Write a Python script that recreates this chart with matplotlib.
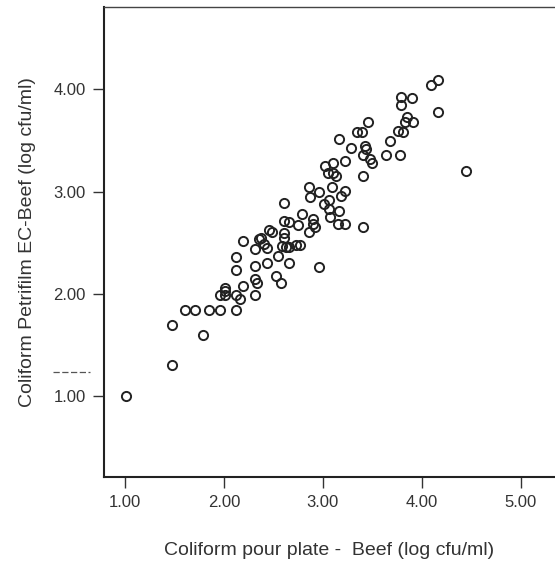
import matplotlib.pyplot as plt
from matplotlib.lines import Line2D

plt.rcParams['font.family'] = ['Liberation Sans', 'DejaVu Sans']

# pour plate counts (x) vs Petrifilm counts (y), log cfu/ml
pour_plate = [1.01, 1.48, 1.48, 1.79, 1.61, 1.71, 1.85, 1.96, 2.12, 1.96,
              2.01, 2.01, 2.12, 2.16, 2.19, 2.12, 2.12, 2.19, 2.31, 2.31,
              2.33, 2.31, 2.31, 2.36, 2.38, 2.41, 2.44, 2.46, 2.49, 2.44,
              2.53, 2.58, 2.55, 2.61, 2.61, 2.61, 2.61, 2.59, 2.63, 2.66,
              2.66, 2.66, 2.73, 2.77, 2.75, 2.79, 2.86, 2.87, 2.86, 2.90,
              2.90, 2.92, 2.96, 2.96, 3.01, 3.02, 3.05, 3.06, 3.06, 3.07,
              3.09, 3.10, 3.10, 3.13, 3.16, 3.15, 3.22, 3.18, 3.22, 3.16,
              3.22, 3.29, 3.35, 3.40, 3.46, 3.41, 3.41, 3.43, 3.44, 3.41,
              3.48, 3.50, 3.64, 3.68, 3.76, 3.78, 3.79, 3.79, 3.81, 3.83,
              3.85, 3.90, 3.91, 4.09, 4.17, 4.16, 4.45, 2.01]
petrifilm = [1.00, 1.69, 1.30, 1.60, 1.84, 1.84, 1.84, 1.84, 1.84, 1.99,
             1.99, 2.06, 1.99, 1.95, 2.08, 2.23, 2.36, 2.52, 1.99, 2.14,
             2.11, 2.27, 2.44, 2.54, 2.55, 2.49, 2.45, 2.62, 2.60, 2.30,
             2.17, 2.11, 2.37, 2.89, 2.71, 2.59, 2.55, 2.47, 2.46, 2.70,
             2.46, 2.30, 2.48, 2.48, 2.67, 2.78, 3.04, 2.95, 2.60, 2.73,
             2.68, 2.65, 3.00, 2.26, 2.88, 3.25, 3.18, 2.92, 2.83, 2.75,
             3.04, 3.28, 3.18, 3.15, 2.81, 2.68, 2.68, 2.96, 3.01, 3.51,
             3.30, 3.43, 3.58, 3.58, 3.68, 3.15, 2.65, 3.45, 3.42, 3.36,
             3.32, 3.28, 3.36, 3.49, 3.59, 3.36, 3.93, 3.85, 3.58, 3.68,
             3.73, 3.92, 3.68, 4.04, 4.09, 3.78, 3.20, 2.03]

ticks = [1.0, 2.0, 3.0, 4.0, 5.0]
xticks_labels = ['1.00', '2.00', '3.00', '4.00', '5.00']
yticks = [1.0, 2.0, 3.0, 4.0]
yticks_labels = ['1.00', '2.00', '3.00', '4.00']

fig = plt.figure(figsize=(5.55, 5.65), dpi=100)
ax = fig.add_axes([104 / 555, 88 / 565, 1 - 104 / 555, 470 / 565])

ax.plot(pour_plate, petrifilm, 'o', mfc='none', mec='#222222',
        ms=6.6, mew=1.4)

ax.set_xlim(0.788, 5.348)
ax.set_ylim(0.207, 4.806)
ax.set_xticks(ticks)
ax.set_xticklabels(xticks_labels)
ax.set_yticks(yticks)
ax.set_yticklabels(yticks_labels)
ax.tick_params(labelsize=12, length=8, width=1.0, color='#333333',
               labelcolor='#333333', pad=5)

for s in ['left', 'bottom']:
    ax.spines[s].set_linewidth(1.5)
    ax.spines[s].set_color('#222222')
ax.spines['top'].set_linewidth(1.0)
ax.spines['top'].set_color('#444444')
ax.spines['right'].set_visible(False)

ax.set_xlabel('Coliform pour plate -  Beef (log cfu/ml)', fontsize=14,
              color='#333333', labelpad=23)
ax.set_ylabel('Coliform Petrifilm EC-Beef (log cfu/ml)', fontsize=14,
              color='#333333', labelpad=13)

# stray scan mark left of the y axis
fig.add_artist(Line2D([53 / 555, 90 / 555], [1 - 372 / 565, 1 - 372 / 565],
                      color='#555555', lw=0.9, ls=(0, (5, 2))))

fig.savefig('out.png', dpi=100)
